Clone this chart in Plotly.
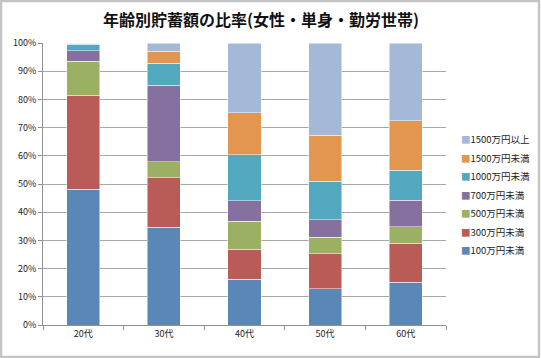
import plotly.graph_objects as go

categories = ["20代", "30代", "40代", "50代", "60代"]
series_names = ["100万円未満", "300万円未満", "500万円未満", "700万円未満",
                "1000万円未満", "1500万円未満", "1500万円以上"]
v_100 = [48.1, 34.6, 16.3, 12.9, 15.1]
v_300 = [33.4, 17.6, 10.5, 12.3, 13.9]
v_500 = [12.0, 5.7, 10.0, 6.0, 5.8]
v_700 = [3.8, 27.1, 7.3, 6.1, 9.4]
v_1000 = [2.2, 7.8, 16.2, 13.7, 10.7]
v_1500 = [0.5, 4.2, 14.9, 16.3, 17.5]
v_1500up = [0.0, 3.0, 24.8, 32.7, 27.6]
series_values = [v_100, v_300, v_500, v_700, v_1000, v_1500, v_1500up]
colors = ["#5A87B5", "#B95B56", "#9BB063", "#8570A0", "#52A8BF", "#E2964F", "#A4B8D8"]
y_ticks = [0, 10, 20, 30, 40, 50, 60, 70, 80, 90, 100]
y_tick_labels = [f"{t}%" for t in y_ticks]

FONT = "Noto Sans CJK JP"
fig = go.Figure()
for name, vals, col in zip(series_names, series_values, colors):
    fig.add_trace(go.Bar(
        x=categories, y=vals, name=name, showlegend=False,
        marker=dict(color=col, line=dict(color="rgba(255,255,255,0.6)", width=0.8)),
    ))

W, H = 541, 358
ml, mr, mt, mb = 43, 95, 43, 33
pw = W - ml - mr
ph = H - mt - mb

def px(X):
    return (X - ml) / pw

def py(Y):
    return (H - mb - Y) / ph

# legend built as text entries (top entry = last series)
annotations = []
leg_top = 139
leg_step = 18.5
for i, (name, col) in enumerate(reversed(list(zip(series_names, colors)))):
    yy = leg_top + i * leg_step
    annotations.append(dict(
        xref="paper", yref="paper", x=px(459), y=py(yy),
        xanchor="left", yanchor="middle", showarrow=False,
        text=f'<span style="color:{col}">■</span>{name}',
        font=dict(family=FONT, size=9.5, color="#222222"),
    ))

fig.update_layout(
    width=W, height=H,
    margin=dict(l=ml, r=mr, t=mt, b=mb, pad=0, autoexpand=False),
    barmode="stack",
    bargap=0.59,
    paper_bgcolor="white",
    plot_bgcolor="white",
    showlegend=False,
    font=dict(family=FONT, size=9, color="#222222"),
    title=dict(text="<b>年齢別貯蓄額の比率(女性・単身・勤労世帯)</b>",
               x=261 / W, xanchor="center", y=1 - 20 / H, yanchor="middle",
               font=dict(family=FONT, size=16, color="#111111")),
    xaxis=dict(
        showgrid=False, showline=True, linecolor="#909090", linewidth=1,
        ticks="outside", tickson="boundaries", ticklen=4, tickcolor="#909090",
        tickfont=dict(family=FONT, size=9, color="#222222"),
    ),
    yaxis=dict(
        range=[0, 100], tickvals=y_ticks, ticktext=y_tick_labels,
        showgrid=True, gridcolor="#A8A8A8", gridwidth=1,
        showline=True, linecolor="#909090", linewidth=1,
        ticks="outside", ticklen=4, tickcolor="#909090",
        tickfont=dict(family=FONT, size=9, color="#222222"),
        zeroline=False,
    ),
    annotations=annotations,
    shapes=[dict(type="rect", xref="paper", yref="paper",
                 x0=px(1), x1=px(539), y0=py(357), y1=py(1),
                 line=dict(color="#C4C4C4", width=2.5), fillcolor="rgba(0,0,0,0)",
                 layer="below")],
)

fig.write_html("out.html", config={"displayModeBar": False},
               post_script="document.body.style.margin='0';document.body.style.overflow='hidden';")
